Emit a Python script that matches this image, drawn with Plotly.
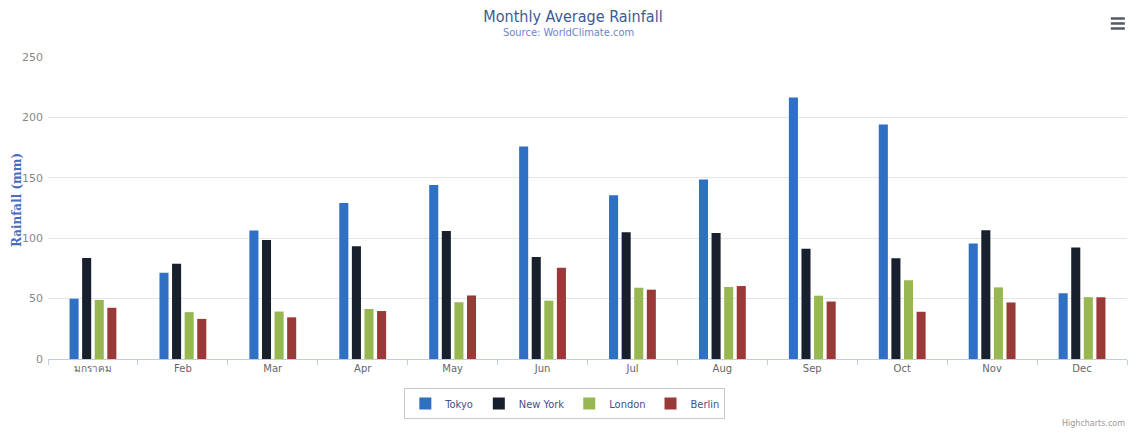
import plotly.graph_objects as go

categories = ["มกราคม", "Feb", "Mar", "Apr", "May", "Jun", "Jul", "Aug", "Sep", "Oct", "Nov", "Dec"]
tokyo = [49.9, 71.5, 106.4, 129.2, 144.0, 176.0, 135.6, 148.5, 216.4, 194.1, 95.6, 54.4]
new_york = [83.6, 78.8, 98.5, 93.4, 106.0, 84.5, 105.0, 104.3, 91.2, 83.5, 106.6, 92.3]
london = [48.9, 38.8, 39.3, 41.4, 47.0, 48.3, 59.0, 59.6, 52.4, 65.2, 59.3, 51.2]
berlin = [42.4, 33.2, 34.5, 39.7, 52.6, 75.5, 57.4, 60.4, 47.6, 39.1, 46.8, 51.1]

series = [
    ("Tokyo", tokyo, "#2f6fc4"),
    ("New York", new_york, "#17202c"),
    ("London", london, "#97b851"),
    ("Berlin", berlin, "#9a3a38"),
]

fig = go.Figure()
for name, vals, col in series:
    fig.add_trace(go.Bar(name=name, x=categories, y=vals, marker=dict(color=col, line=dict(width=0))))

font_main = "Liberation Sans Narrow, DejaVu Sans Condensed, Arial Narrow, sans-serif"

menu_lines = [1.1275, 1.111, 1.0944]
shapes = [
    dict(type="line", xref="paper", yref="paper", x0=0.985, x1=0.998, y0=yy, y1=yy,
         line=dict(color="#555a66", width=2.5))
    for yy in menu_lines
]

fig.update_layout(
    width=1130, height=425,
    paper_bgcolor="white", plot_bgcolor="white",
    margin=dict(l=40, r=11, t=49, b=74),
    barmode="group", bargap=0.44, bargroupgap=0.28,
    font=dict(family="DejaVu Sans, Noto Sans, sans-serif", size=11, color="#666666"),
    title=dict(text="Monthly Average Rainfall", x=0.5, xanchor="center", y=0.981, yanchor="middle",
               font=dict(family=font_main, size=16, color="#3d5a99")),
    showlegend=True,
    legend=dict(orientation="h", x=0.479, xanchor="center", y=-0.096, yanchor="top",
                bordercolor="#c8c8d0", borderwidth=1, bgcolor="white",
                font=dict(family=font_main, size=11, color="#44508a"),
                itemwidth=30, traceorder="normal"),
    xaxis=dict(showline=True, linecolor="#c0cce0", linewidth=1, ticks="outside", tickson="boundaries",
               ticklen=5, tickcolor="#c0cce0", tickfont=dict(size=10, color="#666666"), showgrid=False,
               automargin=False),
    yaxis=dict(range=[0, 250], dtick=50, showgrid=True, gridcolor="#e4e4ec", gridwidth=1,
               zeroline=False, tickfont=dict(size=11, color="#888888"), ticklabelstandoff=4,
               automargin=False),
    shapes=shapes,
    annotations=[
        dict(text="<b>Rainfall (mm)</b>", xref="paper", yref="paper", x=-0.0285, y=0.527,
             xanchor="center", yanchor="middle", textangle=-90, showarrow=False,
             font=dict(family="DejaVu Serif, Liberation Serif, serif", size=12, color="#4a6cc0")),
        dict(text="Source: WorldClimate.com", xref="paper", yref="paper", x=0.482, y=1.0795,
             xanchor="center", yanchor="middle", showarrow=False,
             font=dict(family=font_main, size=11, color="#6a86cc")),
        dict(text="Highcharts.com", xref="paper", yref="paper", x=1.0, y=-0.212, xanchor="right",
             yanchor="middle", showarrow=False, font=dict(family="DejaVu Sans", size=8, color="#999999")),
    ],
)

fig.write_html("out.html")
